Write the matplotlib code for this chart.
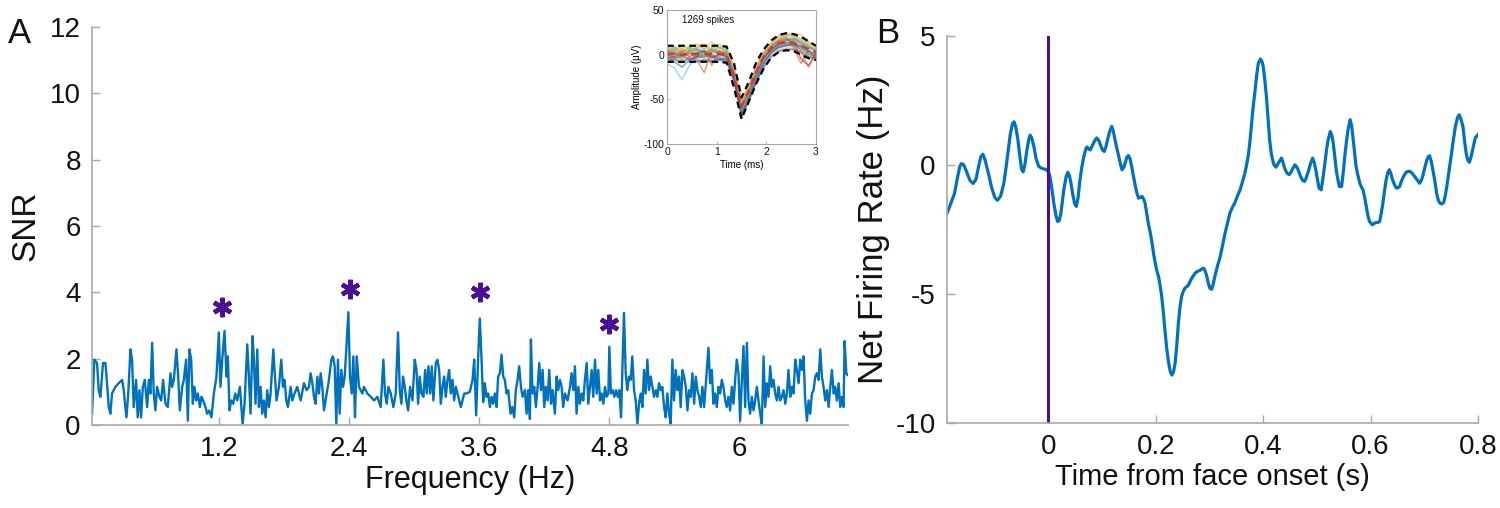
import matplotlib
matplotlib.use("Agg")
import matplotlib.pyplot as plt

plt.rcParams['font.family'] = ['Liberation Sans', 'DejaVu Sans']
plt.rcParams['axes.unicode_minus'] = False

# ---------------- Panel A: SNR spectrum ----------------
freq_hz = [0.031, 0.052, 0.077, 0.092, 0.108, 0.132, 0.154, 0.169, 0.185, 0.200, 0.215, 0.246, 0.277, 0.308,
           0.323, 0.348, 0.363, 0.385, 0.400, 0.415, 0.437, 0.452, 0.468, 0.483, 0.499, 0.517, 0.539, 0.554,
           0.569, 0.585, 0.600, 0.615, 0.631, 0.652, 0.668, 0.686, 0.708, 0.729, 0.754, 0.769, 0.785, 0.809,
           0.825, 0.840, 0.862, 0.877, 0.898, 0.914, 0.929, 0.945, 0.960, 0.975, 0.991, 1.006, 1.025, 1.040,
           1.055, 1.077, 1.092, 1.111, 1.132, 1.154, 1.178, 1.200, 1.215, 1.231, 1.252, 1.271, 1.283, 1.298,
           1.314, 1.332, 1.351, 1.369, 1.394, 1.419, 1.437, 1.462, 1.477, 1.492, 1.511, 1.523, 1.538, 1.554,
           1.569, 1.585, 1.600, 1.615, 1.631, 1.646, 1.662, 1.677, 1.702, 1.717, 1.732, 1.754, 1.775, 1.791,
           1.806, 1.822, 1.837, 1.862, 1.877, 1.898, 1.923, 1.954, 1.985, 2.009, 2.031, 2.046, 2.062, 2.077,
           2.092, 2.108, 2.123, 2.139, 2.154, 2.169, 2.194, 2.215, 2.237, 2.252, 2.268, 2.283, 2.298, 2.314,
           2.329, 2.345, 2.360, 2.375, 2.394, 2.409, 2.425, 2.440, 2.455, 2.471, 2.492, 2.508, 2.523, 2.538,
           2.569, 2.600, 2.631, 2.662, 2.692, 2.717, 2.732, 2.748, 2.763, 2.785, 2.809, 2.831, 2.852, 2.868,
           2.883, 2.898, 2.914, 2.929, 2.945, 2.963, 2.985, 3.006, 3.022, 3.037, 3.052, 3.068, 3.086, 3.102,
           3.117, 3.132, 3.148, 3.163, 3.178, 3.200, 3.215, 3.231, 3.246, 3.262, 3.277, 3.292, 3.308, 3.323,
           3.338, 3.354, 3.369, 3.385, 3.400, 3.431, 3.462, 3.483, 3.514, 3.539, 3.554, 3.572, 3.591, 3.606,
           3.622, 3.637, 3.652, 3.668, 3.683, 3.699, 3.714, 3.729, 3.745, 3.760, 3.775, 3.791, 3.806, 3.822,
           3.837, 3.852, 3.868, 3.889, 3.905, 3.923, 3.938, 3.954, 3.969, 3.985, 4.000, 4.022, 4.037, 4.052,
           4.068, 4.077, 4.092, 4.108, 4.123, 4.139, 4.154, 4.169, 4.185, 4.200, 4.215, 4.231, 4.246, 4.262,
           4.277, 4.298, 4.314, 4.329, 4.345, 4.360, 4.375, 4.391, 4.415, 4.437, 4.452, 4.468, 4.483, 4.498,
           4.514, 4.529, 4.545, 4.560, 4.575, 4.591, 4.606, 4.622, 4.637, 4.652, 4.668, 4.683, 4.698, 4.714,
           4.729, 4.745, 4.760, 4.775, 4.791, 4.800, 4.815, 4.831, 4.846, 4.862, 4.877, 4.892, 4.908, 4.920,
           4.935, 4.951, 4.966, 4.982, 4.997, 5.012, 5.028, 5.043, 5.059, 5.074, 5.089, 5.105, 5.120, 5.135,
           5.151, 5.166, 5.182, 5.197, 5.212, 5.228, 5.243, 5.258, 5.274, 5.289, 5.305, 5.320, 5.335, 5.351,
           5.366, 5.381, 5.397, 5.412, 5.428, 5.443, 5.458, 5.474, 5.489, 5.505, 5.520, 5.535, 5.551, 5.566,
           5.582, 5.597, 5.612, 5.628, 5.643, 5.658, 5.674, 5.692, 5.714, 5.729, 5.745, 5.760, 5.775, 5.791,
           5.806, 5.822, 5.837, 5.852, 5.868, 5.883, 5.898, 5.914, 5.929, 5.945, 5.960, 5.975, 5.991, 6.006,
           6.022, 6.037, 6.052, 6.068, 6.083, 6.098, 6.114, 6.129, 6.145, 6.160, 6.175, 6.191, 6.206, 6.222,
           6.237, 6.252, 6.268, 6.283, 6.298, 6.314, 6.329, 6.345, 6.360, 6.375, 6.391, 6.406, 6.422, 6.437,
           6.452, 6.468, 6.483, 6.498, 6.514, 6.529, 6.545, 6.560, 6.575, 6.591, 6.606, 6.622, 6.637, 6.652,
           6.668, 6.683, 6.699, 6.714, 6.729, 6.745, 6.760, 6.775, 6.791, 6.806, 6.822, 6.837, 6.852, 6.868,
           6.883, 6.898, 6.914, 6.929, 6.945, 6.960, 6.969, 6.985, 6.994]
snr = [0.34, 1.97, 1.87, 1.05, 0.85, 1.87, 1.87, 1.26, 0.54, 0.34, 0.95, 1.15, 1.26, 1.36,
       1.05, 0.23, 0.85, 2.28, 1.97, 0.54, 1.36, 0.23, 1.05, 0.23, 1.15, 1.36, 0.54, 1.36,
       0.95, 2.48, 0.95, 0.44, 1.15, 0.85, 0.74, 1.36, 0.64, 0.54, 1.56, 1.15, 1.36, 2.28,
       1.46, 0.44, 1.15, 1.36, 1.97, 0.13, 2.28, 1.97, 0.64, 1.15, 0.74, 0.95, 0.54, 0.85,
       0.74, 0.54, 0.34, 0.44, 0.23, 0.95, 1.46, 2.79, 1.15, 1.97, 2.84, 1.46, 2.07, 0.44,
       0.74, 0.64, 0.95, 0.74, 1.15, 0.03, 0.64, 2.43, 1.46, 0.34, 2.68, 1.97, 0.64, 2.28,
       0.54, 1.15, 0.34, 0.74, 0.23, 1.05, 0.54, 0.95, 2.28, 1.46, 0.74, 1.15, 1.97, 1.15,
       1.36, 0.74, 0.54, 1.15, 0.74, 0.95, 1.15, 0.74, 1.26, 1.05, 1.15, 1.56, 1.26, 0.85,
       0.64, 1.46, 0.95, 1.56, 1.15, 0.44, 0.95, 1.36, 1.97, 2.07, 1.77, 0.03, 1.97, 0.34,
       1.66, 1.15, 1.46, 2.28, 3.40, 1.46, 0.95, 2.07, 0.23, 2.07, 1.15, 1.05, 0.95, 1.15,
       0.95, 0.85, 0.74, 0.85, 0.54, 1.97, 0.95, 0.64, 1.15, 0.95, 0.54, 0.95, 2.79, 1.05,
       0.64, 1.46, 1.15, 0.74, 0.44, 1.15, 0.74, 1.97, 1.66, 0.64, 1.46, 0.95, 0.85, 1.66,
       0.95, 1.77, 0.95, 1.77, 0.74, 1.87, 1.97, 1.66, 0.64, 1.15, 1.46, 0.85, 1.36, 1.66,
       0.95, 1.36, 0.74, 1.15, 0.95, 0.54, 0.95, 0.95, 1.00, 1.36, 1.97, 0.29, 2.07, 3.21,
       1.97, 0.69, 1.26, 0.85, 0.95, 0.54, 0.85, 0.64, 0.95, 0.54, 1.46, 1.56, 2.12, 1.46,
       1.36, 0.95, 1.05, 0.34, 0.54, 0.23, 1.05, 1.36, 1.77, 1.15, 0.85, 1.05, 0.34, 1.05,
       0.18, 2.58, 0.95, 1.15, 0.54, 1.15, 1.87, 1.05, 1.66, 0.54, 1.15, 0.74, 1.66, 0.64,
       1.05, 0.34, 1.46, 1.05, 1.36, 1.15, 0.54, 0.95, 0.74, 1.15, 1.56, 1.05, 1.77, 0.34,
       1.15, 0.64, 0.95, 0.74, 1.36, 1.87, 0.64, 1.15, 1.66, 0.85, 1.97, 0.95, 1.66, 0.74,
       0.95, 0.64, 1.15, 0.85, 0.95, 2.36, 0.95, 1.05, 0.85, 1.05, 0.85, 1.05, 0.23, 1.66,
       3.38, 1.56, 1.05, 1.46, 1.36, 2.07, 1.05, 0.74, 0.03, 0.64, 0.95, 0.54, 1.66, 0.95,
       1.97, 1.05, 1.46, 1.15, 0.85, 1.05, 0.85, 1.26, 1.05, 1.15, 0.54, 0.23, 0.95, 0.34,
       0.03, 1.97, 0.74, 1.66, 1.05, 1.46, 0.54, 1.66, 1.46, 1.15, 0.44, 1.05, 0.85, 1.56,
       0.64, 1.46, 1.05, 0.85, 0.54, 1.15, 0.54, 1.36, 2.33, 1.26, 1.66, 0.64, 0.95, 0.54,
       1.15, 0.95, 1.36, 1.15, 0.74, 0.54, 0.85, 0.44, 1.15, 0.64, 1.36, 1.97, 1.56, 0.13,
       1.36, 2.38, 0.54, 2.48, 0.74, 0.34, 0.85, 0.44, 0.74, 1.15, 0.74, 0.34, 0.03, 2.07,
       0.54, 1.26, 0.85, 1.77, 1.15, 1.36, 0.95, 0.74, 1.15, 0.74, 0.85, 1.05, 0.64, 0.95,
       1.66, 0.85, 1.15, 0.95, 1.97, 1.66, 1.26, 1.97, 1.66, 2.07, 0.74, 0.13, 0.74, 0.34,
       0.95, 1.05, 1.46, 1.56, 1.36, 2.28, 1.46, 1.15, 0.74, 1.05, 0.54, 1.15, 1.66, 0.95,
       1.15, 0.74, 1.26, 0.54, 0.85, 0.54, 2.53, 1.56, 1.51]

star_freq = [1.225, 2.41, 3.606, 4.80]
star_snr = [3.57, 4.09, 4.01, 3.04]

freq_ticks = [1.2, 2.4, 3.6, 4.8, 6.0]
freq_tick_labels = ['1.2', '2.4', '3.6', '4.8', '6']
snr_ticks = [0, 2, 4, 6, 8, 10, 12]

# ---------------- Inset: spike waveforms ----------------
wave_t = [0, 0.15, 0.3, 0.45, 0.6, 0.75, 0.9, 1.05, 1.2, 1.35, 1.5, 1.65, 1.8, 1.95, 2.1, 2.25, 2.4, 2.55, 2.7, 2.85, 3.0]
wave_mean = [1, 1, 0, 1, 1, 1, 1, 1, 0, -24, -58, -40, -19, -2, 8, 13, 14, 13, 10, 6, 3]
wave_upper = [10, 10, 10, 10, 10, 10, 10, 10, 9, -10, -48, -30, -8, 6, 16, 22, 24, 23, 20, 15, 10]
wave_lower = [-8, -8, -8, -8, -8, -8, -8, -8, -9, -37, -72, -52, -32, -15, -3, 3, 5, 4, 0, -4, -6]
wave_traces = [
    [5, 3, -2, 4, 6, 3, 5, 2, 0, -28, -65, -45, -22, -5, 6, 12, 16, 18, 14, 8, 5],
    [2, -2, 5, 3, -6, -20, 4, 3, -3, -20, -55, -36, -15, 2, 10, 16, 20, 8, -10, 5, -2],
    [8, 5, 10, 7, 12, 6, 14, 8, 4, -18, -52, -38, -18, 0, 12, 22, 24, 20, 15, 10, 6],
    [-5, -2, 0, -6, -3, -2, 0, -4, -6, -26, -68, -50, -28, -10, 2, 8, 10, 12, 10, 4, 0],
    [3, 6, 2, 8, 4, 2, 6, 4, 2, -20, -58, -42, -20, -3, 8, 14, 18, 16, 12, 8, 6],
    [-10, -15, -28, -12, -5, -8, -4, -2, -5, -25, -62, -44, -24, -6, 4, 10, 14, 16, 14, 10, 4],
    [0, -4, -2, 2, -2, 0, -3, 0, -2, -24, -60, -40, -19, -3, 6, 12, 13, 14, -5, -12, 2],
    [6, 8, 4, 0, 10, 12, 2, 6, 8, -16, -50, -34, -12, 4, 14, 20, 22, 24, 22, 15, 8],
    [-4, 2, -6, 6, 0, -4, 8, -2, 5, -22, -63, -46, -25, -8, 4, 10, 12, 10, 6, 0, -4],
    [9, 4, 7, 2, 8, 10, 6, 12, 6, -14, -54, -37, -16, 1, 12, 18, 22, 21, 17, 12, 9],
    [-7, -5, -9, -3, -8, -6, -7, -5, -8, -30, -70, -52, -30, -14, -2, 4, 6, 6, 3, -2, -5],
    [4, 0, 3, -2, 2, 5, -12, 4, 1, -21, -59, -41, -20, -2, 9, 15, 17, 15, 4, -14, 1],
    [1, 9, -3, 5, 7, -1, 3, 9, 3, -19, -56, -39, -17, 0, 10, 17, 19, 17, 13, 9, 5],
    [-2, -8, -14, -6, -1, 4, -2, -6, -4, -27, -66, -48, -26, -9, 3, 9, 11, 11, 8, 2, -3],
]
trace_colors = ['#0072BD', '#D95319', '#EDB120', '#7E2F8E', '#77AC30', '#4DBEEE', '#A2142F', '#F4A460',
                '#77AC30', '#EDB120', '#7E2F8E', '#D95319', '#4DBEEE', '#0072BD']

# ---------------- Panel B: net firing rate ----------------
time_s = [-0.189, -0.183, -0.175, -0.169, -0.165, -0.162, -0.158, -0.152, -0.146, -0.140, -0.135, -0.130,
          -0.126, -0.122, -0.118, -0.112, -0.106, -0.100, -0.095, -0.089, -0.083, -0.079, -0.075, -0.071,
          -0.067, -0.064, -0.061, -0.057, -0.053, -0.050, -0.047, -0.044, -0.040, -0.036, -0.034, -0.031,
          -0.027, -0.023, -0.018, -0.013, -0.008, -0.003, 0.002, 0.006, 0.010, 0.014, 0.017, 0.020,
          0.023, 0.026, 0.029, 0.033, 0.036, 0.039, 0.042, 0.045, 0.049, 0.052, 0.055, 0.058,
          0.062, 0.066, 0.070, 0.072, 0.075, 0.078, 0.081, 0.084, 0.087, 0.090, 0.094, 0.098,
          0.101, 0.104, 0.107, 0.110, 0.114, 0.118, 0.121, 0.124, 0.128, 0.131, 0.134, 0.137,
          0.140, 0.143, 0.146, 0.149, 0.152, 0.155, 0.159, 0.162, 0.165, 0.168, 0.171, 0.174,
          0.177, 0.180, 0.183, 0.186, 0.190, 0.193, 0.196, 0.199, 0.202, 0.205, 0.208, 0.211,
          0.214, 0.217, 0.220, 0.224, 0.227, 0.230, 0.233, 0.236, 0.239, 0.242, 0.245, 0.248,
          0.251, 0.254, 0.258, 0.261, 0.264, 0.267, 0.270, 0.273, 0.277, 0.282, 0.286, 0.289,
          0.292, 0.295, 0.298, 0.301, 0.304, 0.307, 0.310, 0.315, 0.320, 0.325, 0.329, 0.334,
          0.338, 0.343, 0.347, 0.352, 0.357, 0.362, 0.366, 0.369, 0.372, 0.375, 0.378, 0.381,
          0.385, 0.388, 0.391, 0.395, 0.398, 0.400, 0.403, 0.406, 0.409, 0.412, 0.415, 0.419,
          0.421, 0.424, 0.427, 0.430, 0.434, 0.437, 0.440, 0.444, 0.448, 0.451, 0.454, 0.459,
          0.462, 0.465, 0.468, 0.471, 0.474, 0.477, 0.480, 0.484, 0.488, 0.492, 0.495, 0.498,
          0.501, 0.504, 0.508, 0.511, 0.515, 0.518, 0.521, 0.525, 0.528, 0.530, 0.533, 0.536,
          0.539, 0.542, 0.546, 0.549, 0.552, 0.555, 0.558, 0.562, 0.565, 0.567, 0.570, 0.573,
          0.577, 0.580, 0.583, 0.586, 0.589, 0.592, 0.595, 0.598, 0.603, 0.607, 0.611, 0.614,
          0.617, 0.620, 0.623, 0.626, 0.629, 0.632, 0.635, 0.638, 0.641, 0.645, 0.648, 0.651,
          0.654, 0.657, 0.660, 0.663, 0.666, 0.670, 0.674, 0.678, 0.682, 0.687, 0.691, 0.694,
          0.697, 0.701, 0.705, 0.708, 0.710, 0.713, 0.716, 0.720, 0.723, 0.726, 0.729, 0.733,
          0.736, 0.739, 0.742, 0.746, 0.750, 0.754, 0.758, 0.762, 0.765, 0.768, 0.772, 0.775,
          0.778, 0.781, 0.784, 0.787, 0.790, 0.795, 0.800]
net_rate = [-1.87, -1.55, -1.10, -0.45, -0.05, 0.06, 0.02, -0.28, -0.60, -0.71, -0.55, -0.05,
            0.32, 0.42, 0.20, -0.30, -0.85, -1.25, -1.36, -1.20, -0.70, -0.10, 0.55, 1.20,
            1.60, 1.68, 1.50, 1.00, 0.30, -0.15, -0.26, 0.00, 0.60, 1.05, 1.16, 1.05,
            0.71, 0.25, -0.05, -0.12, -0.15, -0.18, -0.35, -0.85, -1.47, -1.95, -2.18, -2.15,
            -1.90, -1.40, -0.90, -0.45, -0.28, -0.40, -0.70, -1.10, -1.50, -1.60, -1.30, -0.70,
            -0.10, 0.34, 0.65, 0.70, 0.62, 0.59, 0.72, 0.85, 0.98, 1.05, 0.95, 0.72,
            0.58, 0.53, 0.70, 0.98, 1.30, 1.50, 1.30, 0.98, 0.60, 0.34, 0.05, -0.18,
            -0.10, 0.08, 0.30, 0.37, 0.25, -0.05, -0.50, -0.83, -1.10, -1.28, -1.25, -1.21,
            -1.30, -1.47, -1.85, -2.25, -2.65, -3.02, -3.45, -3.80, -4.10, -4.31, -4.65, -5.09,
            -5.70, -6.38, -7.05, -7.67, -8.00, -8.13, -8.00, -7.67, -7.00, -6.12, -5.50, -5.09,
            -4.90, -4.77, -4.70, -4.64, -4.50, -4.38, -4.28, -4.19, -4.12, -4.08, -4.02, -3.99,
            -4.10, -4.31, -4.60, -4.77, -4.81, -4.60, -4.31, -3.90, -3.54, -3.05, -2.64, -2.20,
            -1.86, -1.62, -1.47, -1.20, -0.96, -0.60, -0.31, 0.00, 0.34, 0.85, 1.50, 2.20,
            2.92, 3.50, 3.95, 4.11, 4.00, 3.82, 3.30, 2.66, 1.80, 0.98, 0.45, 0.08,
            -0.02, -0.08, 0.03, 0.14, 0.27, 0.10, -0.12, -0.30, -0.37, -0.30, -0.18, 0.01,
            -0.05, -0.18, -0.35, -0.50, -0.60, -0.63, -0.50, -0.25, 0.05, 0.27, 0.10, -0.18,
            -0.55, -0.89, -0.96, -0.55, 0.08, 0.60, 0.98, 1.30, 1.15, 0.92, 0.40, -0.18,
            -0.55, -0.83, -0.83, -0.30, 0.34, 0.90, 1.37, 1.76, 1.50, 1.11, 0.50, -0.05,
            -0.45, -0.70, -0.85, -0.96, -1.25, -1.60, -1.95, -2.18, -2.31, -2.25, -2.22, -2.22,
            -2.18, -1.85, -1.47, -1.00, -0.57, -0.30, -0.18, -0.35, -0.57, -0.78, -0.89, -0.88,
            -0.83, -0.65, -0.50, -0.38, -0.28, -0.24, -0.25, -0.33, -0.44, -0.58, -0.70, -0.62,
            -0.44, -0.10, 0.21, 0.34, 0.36, 0.15, -0.18, -0.65, -1.09, -1.35, -1.47, -1.50,
            -1.45, -1.20, -0.83, -0.25, 0.34, 0.95, 1.50, 1.85, 1.95, 1.80, 1.50, 0.95,
            0.47, 0.20, 0.11, 0.30, 0.59, 1.05, 1.18]
face_onset = 0.0
time_ticks = [0, 0.2, 0.4, 0.6, 0.8]
rate_ticks = [-10, -5, 0, 5]

# ---------------- styling ----------------
LINE_BLUE = '#0072BD'
PURPLE = '#4B0F96'
AXIS_GRAY = '#a8a8a8'
TXT = '#111111'


def style_axes(ax, labelsize=20):
    for side in ('top', 'right'):
        ax.spines[side].set_visible(False)
    for side in ('left', 'bottom'):
        ax.spines[side].set_color(AXIS_GRAY)
        ax.spines[side].set_linewidth(1.2)
    ax.tick_params(direction='in', length=6, width=1.0, color=AXIS_GRAY,
                   labelcolor=TXT, labelsize=labelsize, pad=8)


fig = plt.figure(figsize=(15, 5.08), dpi=100)

# Panel A
axA = fig.add_axes([0.0613, 0.1634, 0.5040, 0.7835])
axA.plot(freq_hz, snr, color=LINE_BLUE, lw=1.7)
axA.plot(star_freq, star_snr, linestyle='none', marker=(6, 2, 0), markersize=14,
         markeredgewidth=3.2, color=PURPLE)
axA.set_xlim(0.03, 7.0)
axA.set_ylim(0, 12)
axA.set_xticks(freq_ticks)
axA.set_xticklabels(freq_tick_labels)
axA.set_yticks(snr_ticks)
style_axes(axA)
axA.set_xlabel('Frequency (Hz)', fontsize=22, color=TXT, labelpad=2)
axA.set_ylabel('SNR', fontsize=24, color=TXT, labelpad=6)

# Inset
axI = fig.add_axes([0.4447, 0.7165, 0.0993, 0.2638])
axI.fill_between(wave_t, wave_lower, wave_upper, color='#8fae7a', alpha=0.35, lw=0)
for tr, c in zip(wave_traces, trace_colors):
    axI.plot(wave_t, tr, color=c, lw=1.0, alpha=0.6)
axI.plot(wave_t, wave_upper, color='black', lw=1.6, ls=(0, (3, 2)))
axI.plot(wave_t, wave_lower, color='black', lw=1.6, ls=(0, (3, 2)))
axI.plot(wave_t, wave_mean, color='#E8331E', lw=1.8, ls=(0, (3, 2)))
axI.set_xlim(0, 3)
axI.set_ylim(-100, 50)
axI.set_xticks([0, 1, 2, 3])
axI.set_yticks([-100, -50, 0, 50])
for s in axI.spines.values():
    s.set_color(AXIS_GRAY)
    s.set_linewidth(0.8)
axI.tick_params(direction='in', length=2, width=0.6, color=AXIS_GRAY,
                labelcolor=TXT, labelsize=7.5, pad=2)
axI.set_xlabel('Time (ms)', fontsize=7, labelpad=2)
axI.set_ylabel('Amplitude (μV)', fontsize=7, labelpad=1)
axI.text(0.3, 39, '1269 spikes', fontsize=7, va='center', ha='left', color=TXT)

# Panel B
axB = fig.add_axes([0.6313, 0.1667, 0.3540, 0.7624])
axB.plot(time_s, net_rate, color=LINE_BLUE, lw=2.3)
axB.axvline(face_onset, color=PURPLE, lw=2.2)
axB.set_xlim(-0.189, 0.8)
axB.set_ylim(-10, 5)
axB.set_xticks(time_ticks)
axB.set_xticklabels(['0', '0.2', '0.4', '0.6', '0.8'])
axB.set_yticks(rate_ticks)
axB.set_yticklabels([str(v) for v in rate_ticks])
style_axes(axB)
axB.set_xlabel('Time from face onset (s)', fontsize=21, color=TXT, labelpad=2)
axB.set_ylabel('Net Firing Rate (Hz)', fontsize=25, color=TXT, labelpad=4)

# panel letters
fig.text(0.005, 0.935, 'A', fontsize=25, color=TXT, va='center', ha='left')
fig.text(0.584, 0.935, 'B', fontsize=25, color=TXT, va='center', ha='left')

fig.savefig('out.png', dpi=100)
